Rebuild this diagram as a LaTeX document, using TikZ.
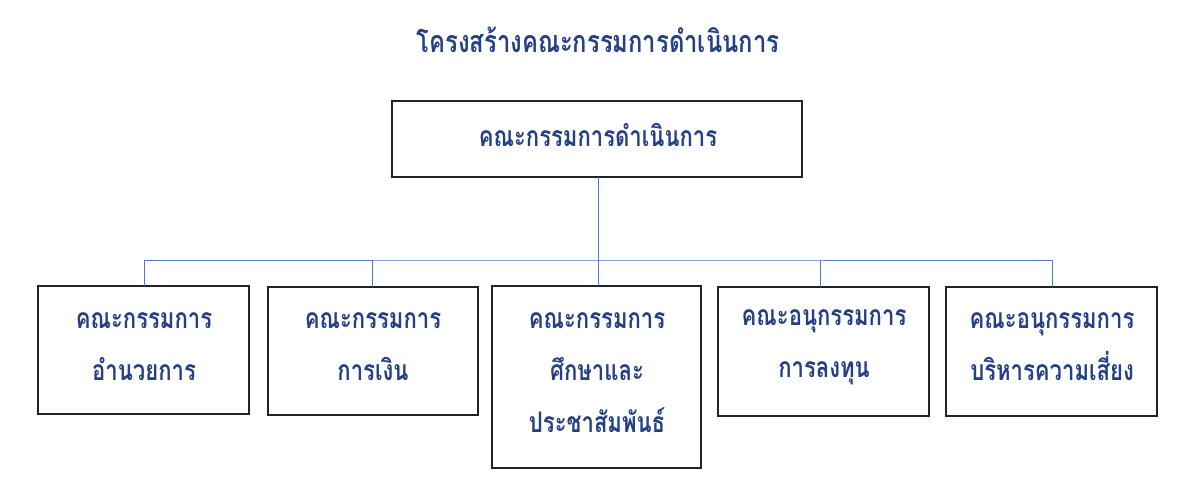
\documentclass[tikz,border=0pt]{standalone}
\usepackage{fontspec}
\newfontfamily\thaifont[Script=Thai,FakeStretch=0.78]{Loma}
\definecolor{txtblue}{RGB}{36,64,135}
\definecolor{lineblue}{RGB}{79,122,196}
\definecolor{boxline}{RGB}{35,35,35}
\begin{document}
\begin{tikzpicture}[x=1pt,y=-1pt,
  box/.style={draw=boxline,line width=1.2pt,fill=white},
  lbl/.style={text=txtblue,font=\thaifont\bfseries\fontsize{28.3}{52}\selectfont,align=center},
  conn/.style={draw=lineblue,line width=0.9pt}]
\useasboundingbox (0,0) rectangle (1200,500);
\node[text=txtblue,font=\thaifont\bfseries\fontsize{30.5}{32}\selectfont] (title) at (598,40) {โครงสร้างคณะกรรมการดำเนินการ};
\draw[box] (392,101) rectangle (802,177);
\node[lbl] (top) at (598,135) {คณะกรรมการดำเนินการ};
\coordinate (topb) at (598,177);
\coordinate (bus) at (598,260);
\draw[box] (38,286) rectangle (249,414);
\draw[box] (268,287) rectangle (478,415);
\draw[box] (492,286) rectangle (701,468);
\draw[box] (718,287) rectangle (929,416);
\draw[box] (946,287) rectangle (1157,416);
\node[lbl,text width=205pt] (a) at (144,347) {คณะกรรมการ\\อำนวยการ};
\node[lbl,text width=205pt] (b) at (373,347) {คณะกรรมการ\\การเงิน};
\node[lbl,text width=205pt] (c) at (597,373) {คณะกรรมการ\\ศึกษาและ\\ประชาสัมพันธ์};
\node[lbl,text width=205pt] (d) at (824,347) {คณะอนุกรรมการ\\การลงทุน};
\node[lbl,text width=205pt] (e) at (1052,347) {คณะอนุกรรมการ\\บริหารความเสี่ยง};
\coordinate (ta) at (144,286);
\coordinate (tb) at (372,287);
\coordinate (tc) at (598,286);
\coordinate (td) at (820,287);
\coordinate (te) at (1052,287);
\draw[conn] (topb) -- (tc);
\draw[conn] (ta) |- (bus) -| (te);
\draw[conn] (tb) -- (tb |- bus);
\draw[conn] (td) -- (td |- bus);
\end{tikzpicture}
\end{document}
